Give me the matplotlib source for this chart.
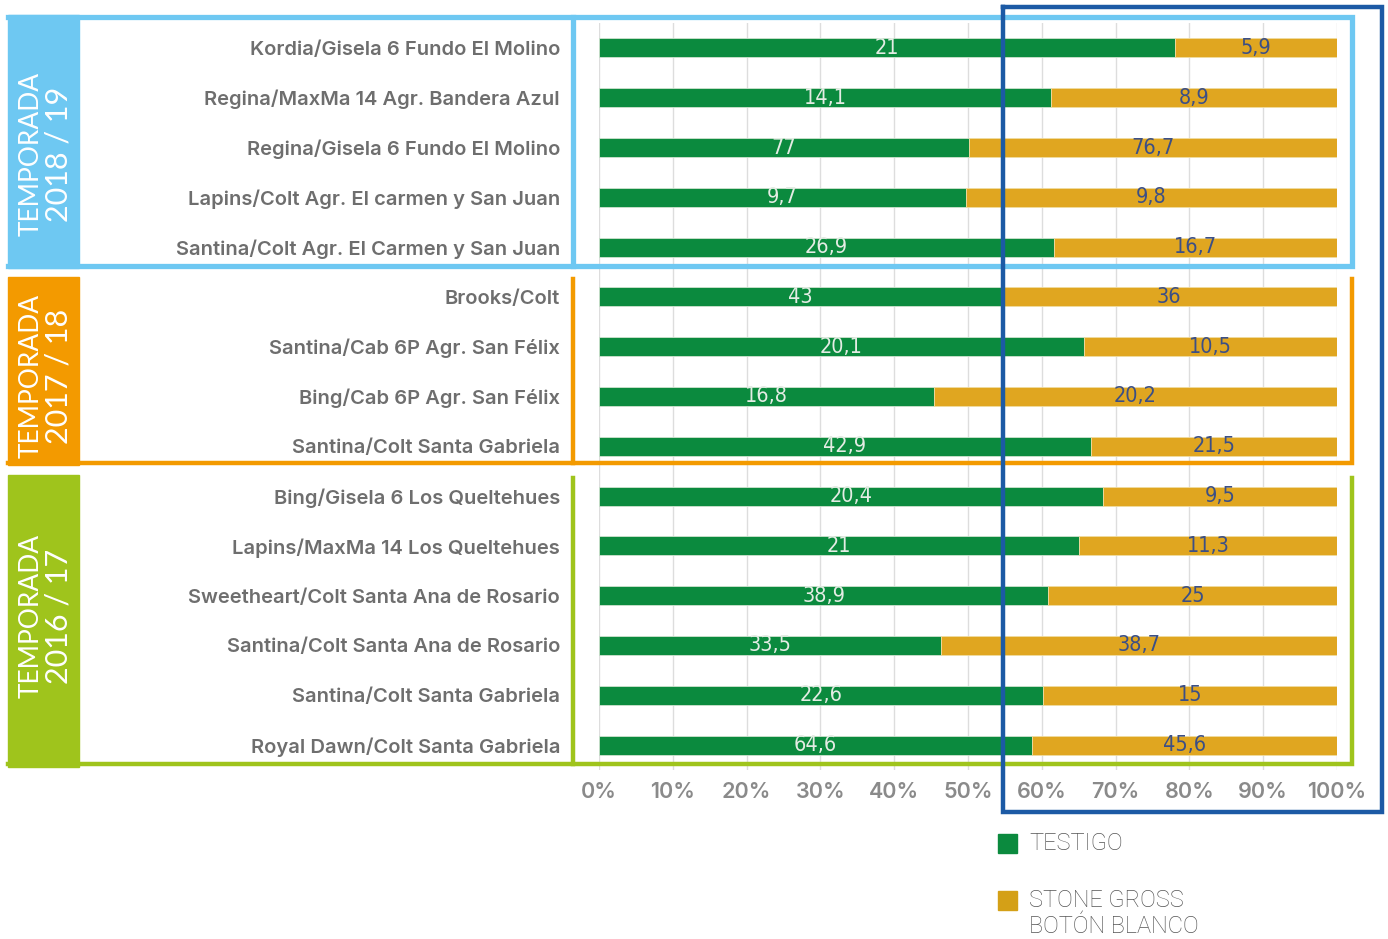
import numpy as np
import matplotlib.pyplot as plt
from matplotlib.patches import Rectangle

# ---------------- data ----------------
labels = [
    'Kordia/Gisela 6 Fundo El Molino',
    'Regina/MaxMa 14 Agr. Bandera Azul',
    'Regina/Gisela 6 Fundo El Molino',
    'Lapins/Colt Agr. El carmen y San Juan',
    'Santina/Colt Agr. El Carmen y San Juan',
    'Brooks/Colt',
    'Santina/Cab 6P Agr. San Félix',
    'Bing/Cab 6P Agr. San Félix',
    'Santina/Colt Santa Gabriela',
    'Bing/Gisela 6 Los Queltehues',
    'Lapins/MaxMa 14 Los Queltehues',
    'Sweetheart/Colt Santa Ana de Rosario',
    'Santina/Colt Santa Ana de Rosario',
    'Santina/Colt Santa Gabriela',
    'Royal Dawn/Colt Santa Gabriela',
]
testigo = [21, 14.1, 77, 9.7, 26.9, 43, 20.1, 16.8, 42.9, 20.4, 21, 38.9, 33.5, 22.6, 64.6]
stone = [5.9, 8.9, 76.7, 9.8, 16.7, 36, 10.5, 20.2, 21.5, 9.5, 11.3, 25, 38.7, 15, 45.6]
series_names = ['TESTIGO', 'STONE GROSS\nBOTÓN BLANCO']

seasons = ['2018 / 19', '2017 / 18', '2016 / 17']
season_rows = [5, 4, 6]

# ---------------- style ----------------
c_green = '#0b8a3e'
c_gold = '#e0a620'
c_leg_gold = '#d4a017'
c_season = ['#6ec8f2', '#f39a00', '#9fc41c']
c_navy = '#1c5aa5'
txt_gray = '#6e6e6e'

W, H = 1388, 939
fig = plt.figure(figsize=(W / 100, H / 100), dpi=100)

ax = fig.add_axes([599 / W, 1 - 770 / H, 738 / W, (770 - 23) / H])

tot = np.array(testigo) + np.array(stone)
p1 = 100 * np.array(testigo) / tot
p2 = 100 * np.array(stone) / tot
y = np.arange(len(labels))

ax.barh(y, p1, height=0.38, color=c_green, edgecolor='#cfe3cf', linewidth=0.6, zorder=3)
ax.barh(y, p2, left=p1, height=0.38, color=c_gold, edgecolor='#f0dca0', linewidth=0.6, zorder=3)

for i in range(len(labels)):
    ax.text(p1[i] / 2, y[i], ('%g' % testigo[i]).replace('.', ','), ha='center', va='center',
            fontsize=15.5, color='#e4ece4', family='DejaVu Sans', fontstretch='condensed', zorder=4)
    ax.text(p1[i] + p2[i] / 2, y[i], ('%g' % stone[i]).replace('.', ','), ha='center', va='center',
            fontsize=15.5, color='#3b4f86', family='DejaVu Sans', fontstretch='condensed', zorder=4)

ax.set_xlim(0, 100)
ax.set_ylim(len(labels) - 0.5, -0.5)
ax.set_xticks(np.arange(0, 101, 10))
ax.set_xticklabels(['%d%%' % v for v in range(0, 101, 10)])
ax.set_yticks(y)
ax.set_yticklabels(labels)
ax.tick_params(axis='x', length=0, pad=9, labelsize=15.5, labelcolor='#8a8a8a')
ax.tick_params(axis='y', length=0, pad=28, labelsize=14.5, labelcolor=txt_gray)
for t in ax.get_xticklabels() + ax.get_yticklabels():
    t.set_family('Inter')
    t.set_fontweight('semibold')
ax.grid(axis='x', color='#dddddd', linewidth=1, zorder=0)
for s in ax.spines.values():
    s.set_visible(False)

# ---------------- overlay: frames, season panels, legend ----------------
ov = fig.add_axes([0, 0, 1, 1], zorder=5)
ov.set_xlim(0, W)
ov.set_ylim(H, 0)
ov.axis('off')
ov.patch.set_alpha(0)

# season blocks (pixel extents)
blocks = [(15, 268), (277, 465), (475, 767)]
text_cy = [154, 376, 616]
for k, (y0, y1) in enumerate(blocks):
    col = c_season[k]
    ov.add_patch(Rectangle((8, y0), 71, y1 - y0, color=col, zorder=2))
    ov.text(31, text_cy[k], 'TEMPORADA', rotation=90, ha='center', va='center',
            color='white', fontsize=19, family='Lato', fontweight='normal', zorder=3)
    ov.text(59, text_cy[k], seasons[k], rotation=90, ha='center', va='center',
            color='white', fontsize=22, family='Lato', fontweight='normal', zorder=3)

# 2018/19 full frame
lb = c_season[0]
ov.plot([8, 1352, 1352, 8], [17, 17, 266, 266], color=lb, lw=3.8, solid_joinstyle='miter')
ov.plot([573, 573], [17, 266], color=lb, lw=3.8)
# 2017/18 and 2016/17 bracket frames
for k, (y0, y1) in [(1, (279, 463)), (2, (478, 764))]:
    col = c_season[k]
    ov.plot([573, 573], [y0, y1], color=col, lw=3.2)
    ov.plot([8, 1352, 1352], [y1, y1, y0], color=col, lw=3.2, solid_joinstyle='miter')

# navy highlight frame
ov.plot([1003, 1382, 1382, 1003, 1003], [7, 7, 812, 812, 7], color=c_navy, lw=3.2,
        solid_joinstyle='miter', solid_capstyle='projecting')

# legend
leg_cols = [c_green, c_leg_gold]
leg_y = [834, 891]
for k, name in enumerate(series_names):
    ov.add_patch(Rectangle((998, leg_y[k]), 19, 19, color=leg_cols[k]))
    ov.text(1029, leg_y[k] - 2, name, ha='left', va='top', fontsize=17, color='#555555',
            family='Roboto', fontweight='light', linespacing=1.15)

fig.savefig('out.png', dpi=100)
